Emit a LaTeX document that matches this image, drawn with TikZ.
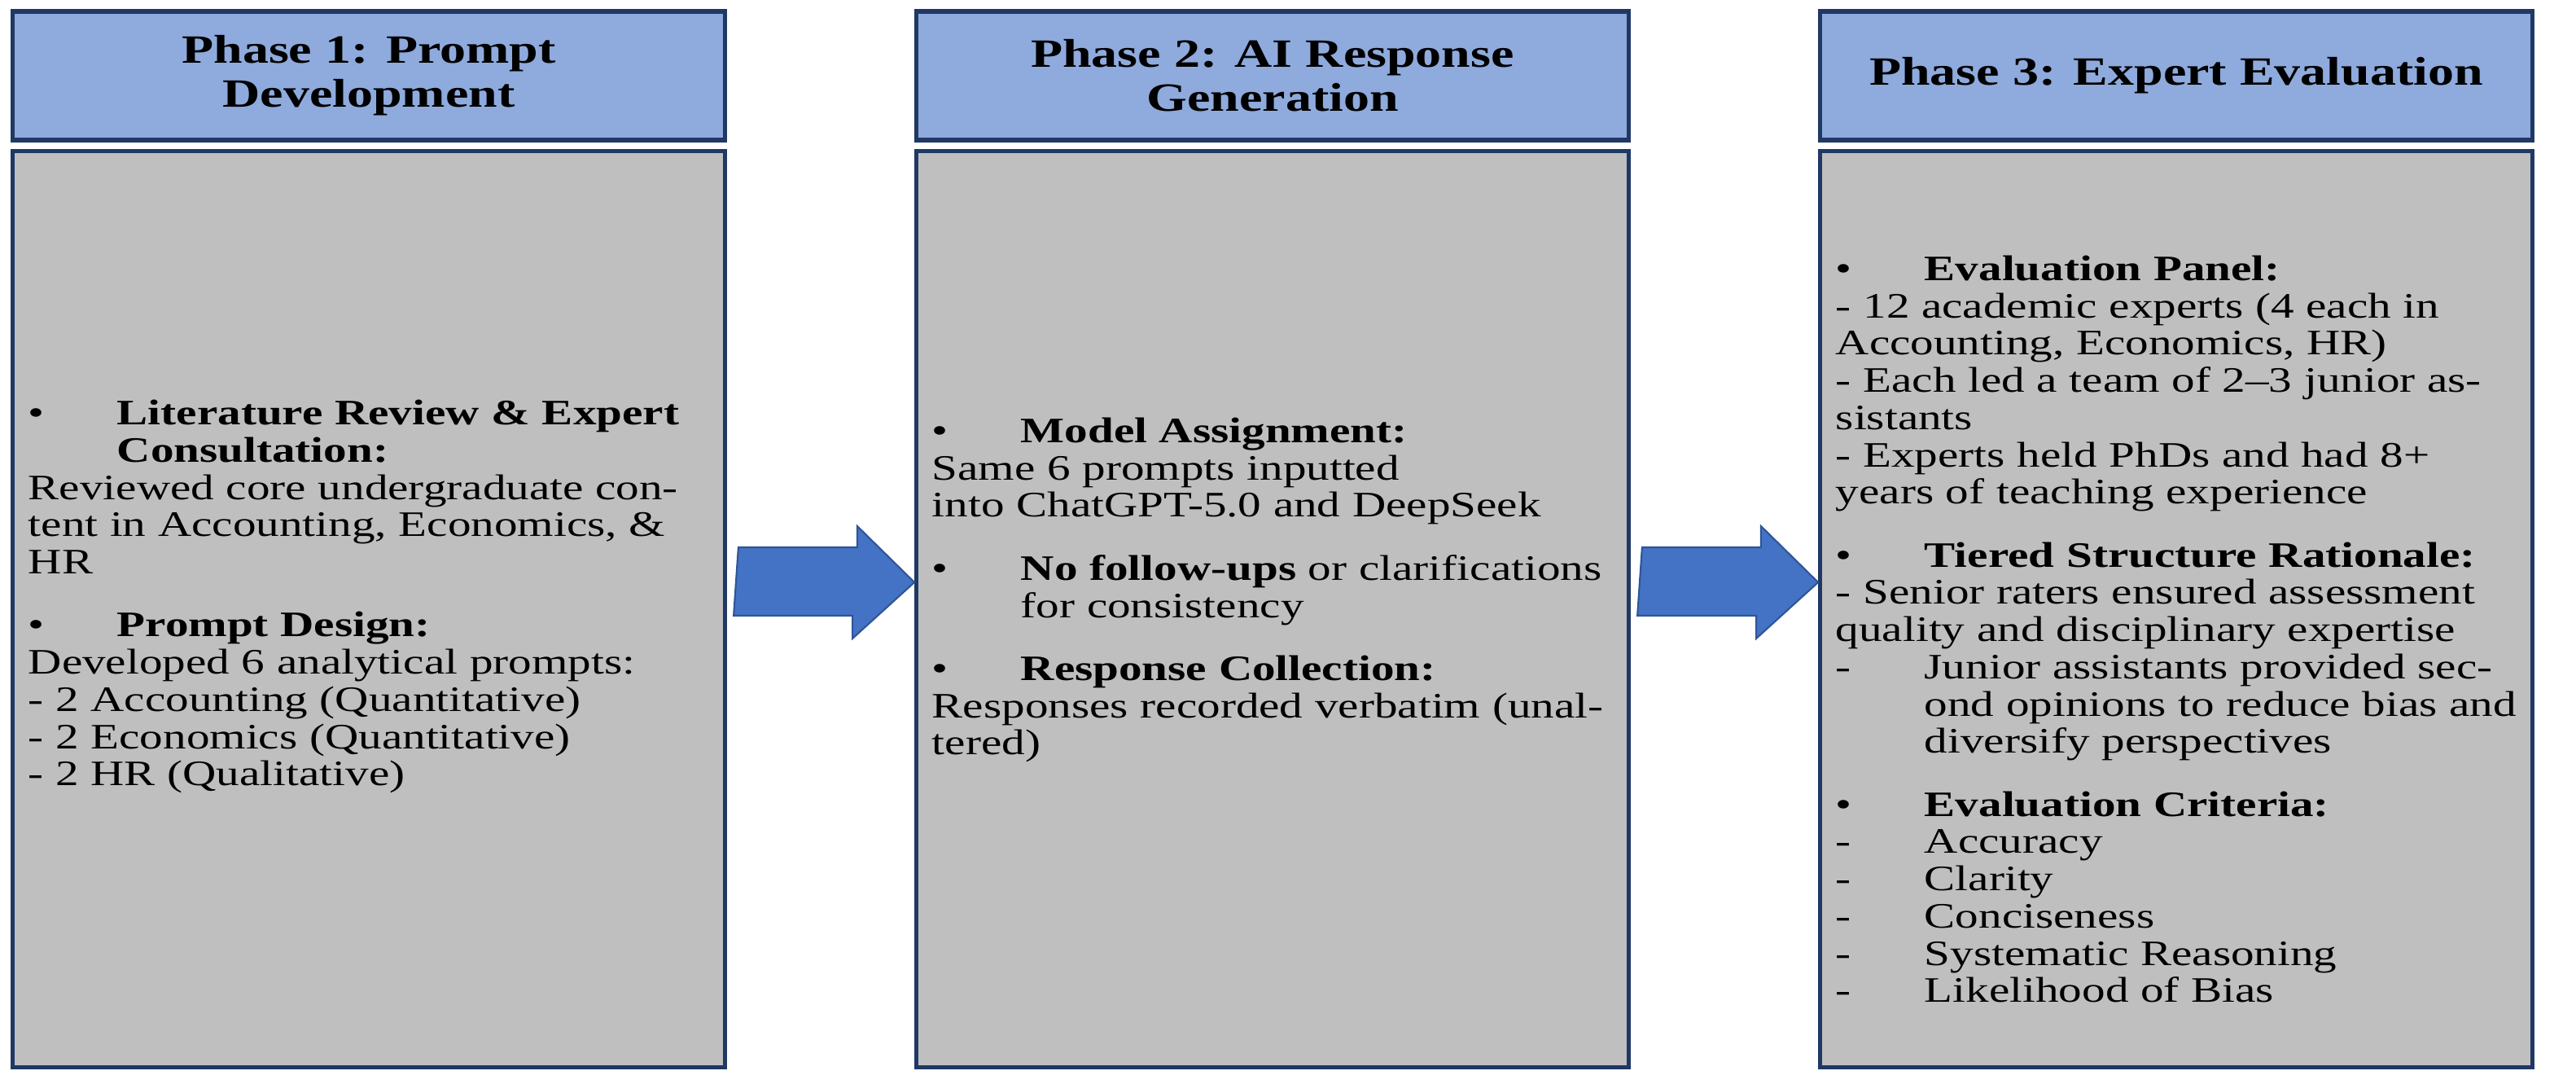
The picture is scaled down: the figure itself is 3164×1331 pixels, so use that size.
\documentclass[tikz,border=0pt]{standalone}
\usepackage{fontspec}
\usetikzlibrary{calc}
\setmainfont{Liberation Serif}[FakeStretch=1.3]
\definecolor{hdr}{HTML}{8FAADC}
\definecolor{navy}{HTML}{1F3864}
\definecolor{bodyc}{HTML}{BFBFBF}
\definecolor{arr}{HTML}{4472C4}
\definecolor{arrb}{HTML}{2F5597}
\newcommand{\bul}[1]{\par\hangindent=31pt\hangafter=1\noindent\makebox[31pt][l]{\textbullet}\textbf{#1}\par}
\newcommand{\dsh}[1]{\par\hangindent=31pt\hangafter=1\noindent\makebox[31pt][l]{-}#1\par}
\newcommand{\gap}{\vspace{9pt}}
\begin{document}
\begin{tikzpicture}[x=0.01cm,y=-0.01cm,
  hd/.style={draw=navy,line width=1.5pt,fill=hdr,minimum width=8.74cm,minimum height=1.58cm,align=center,
    font=\fontsize{14}{15.3}\selectfont\bfseries},
  bd/.style={draw=navy,line width=1.5pt,fill=bodyc,minimum width=8.74cm,minimum height=11.24cm},
  tx/.style={text width=8.4cm,align=left,font=\fontsize{12.5}{13}\selectfont,inner sep=0pt},
  ar/.style={fill=arr,draw=arrb,line width=0.6pt}]
\useasboundingbox (0,0) rectangle (3164,1331);
\node[hd] (h1) at (453,93) {Phase 1: Prompt\\Development};
\node[hd] (h2) at (1563,93) {Phase 2: AI Response\\Generation};
\node[hd] (h3) at (2673,93) {Phase 3: Expert Evaluation};
\node[bd] (b1) at (453,748) {};
\node[bd] (b2) at (1563,748) {};
\node[bd] (b3) at (2673,748) {};
\node[tx] (t1) at (455,725) {%
\bul{Literature Review \& Expert Consultation:}
Reviewed core undergraduate content in Accounting, Economics, \& HR\par\gap
\bul{Prompt Design:}
Developed 6 analytical prompts:\par
- 2 Accounting (Quantitative)\par
- 2 Economics (Quantitative)\par
- 2 HR (Qualitative)\par};
\node[tx] (t2) at (1565,717) {%
\bul{Model Assignment:}
Same 6 prompts inputted\\ into ChatGPT-5.0 and DeepSeek\par\gap
\par\hangindent=31pt\hangafter=1\noindent\makebox[31pt][l]{\textbullet}\textbf{No follow-ups} or clarifications for consistency\par\gap
\bul{Response Collection:}
Responses recorded verbatim (unaltered)\par};
\node[tx] (t3) at (2675,765) {%
\bul{Evaluation Panel:}
- 12 academic experts (4 each in Accounting, Economics, HR)\par
- Each led a team of 2--3 junior assistants\par
- Experts held PhDs and had 8+ years of teaching experience\par\gap
\bul{Tiered Structure Rationale:}
- Senior raters ensured assessment quality and disciplinary expertise\par
\dsh{Junior assistants provided second opinions to reduce bias and diversify perspectives}\gap
\bul{Evaluation Criteria:}
\dsh{Accuracy}\dsh{Clarity}\dsh{Conciseness}\dsh{Systematic Reasoning}\dsh{Likelihood of Bias}};
\filldraw[ar] ($(b1.east)+(14,-76)$) -- ++(146,0) -- ++(0,-26) -- ($(b2.west)+(0,-33)$) -- ++(-76,69) -- ++(0,-28) -- ++(-146,0) -- cycle;
\filldraw[ar] ($(b2.east)+(14,-76)$) -- ++(146,0) -- ++(0,-26) -- ($(b3.west)+(0,-33)$) -- ++(-76,69) -- ++(0,-28) -- ++(-146,0) -- cycle;
\end{tikzpicture}
\end{document}
